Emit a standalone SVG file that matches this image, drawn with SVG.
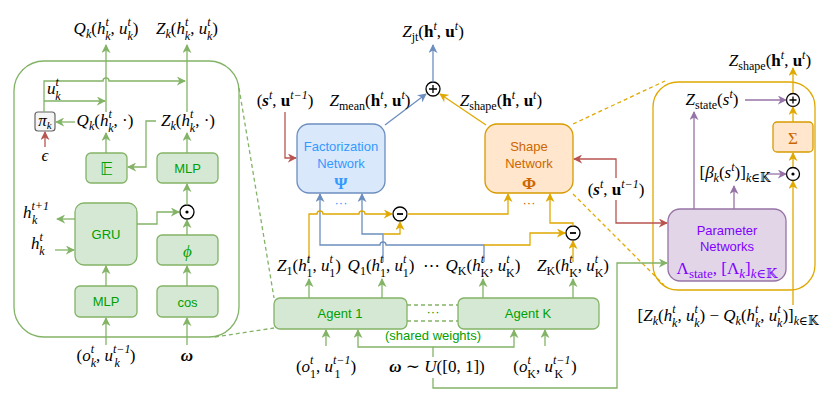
<svg xmlns="http://www.w3.org/2000/svg" width="830" height="400" viewBox="0 0 830 400">
<style>
.m{font-family:"Liberation Serif","DejaVu Serif",serif;font-size:17px;font-style:italic;fill:#000}
.s{font-size:12px}
.n{font-style:normal}
.b{font-weight:bold;font-style:normal}
.bi{font-weight:bold}
.c{text-anchor:middle}
.sans{font-family:"Liberation Sans",Arial,sans-serif;font-size:13px;text-anchor:middle}
.tg{fill:#00a000}
.tb{fill:#3399ff}
.to{fill:#cc6600}
.tp{fill:#7f00ff}
.gbox{fill:#d5e8d4;stroke:#82b366;stroke-width:1.3}
.bbox{fill:#dae8fc;stroke:#6c8ebf;stroke-width:1.3}
.obox{fill:#ffe6cc;stroke:#d79b00;stroke-width:1.3}
.pbox{fill:#e1d5e7;stroke:#9673a6;stroke-width:1.3}
.ln{fill:none;stroke-width:1.3}
.lg{stroke:#82b366}
.lb{stroke:#6c8ebf}
.lo{stroke:#e0a800}
.lr{stroke:#b85450}
.lp{stroke:#9673a6}
.op{fill:#fff;stroke:#000;stroke-width:1.3}
</style>
<defs>
<marker id="mg" viewBox="0 0 10 10" refX="9" refY="5" markerWidth="9" markerHeight="9" markerUnits="userSpaceOnUse" orient="auto"><path d="M0,0 L10,5 L0,10 L3,5 z" fill="#82b366"/></marker>
<marker id="mb" viewBox="0 0 10 10" refX="9" refY="5" markerWidth="9" markerHeight="9" markerUnits="userSpaceOnUse" orient="auto"><path d="M0,0 L10,5 L0,10 L3,5 z" fill="#6c8ebf"/></marker>
<marker id="mo" viewBox="0 0 10 10" refX="9" refY="5" markerWidth="9" markerHeight="9" markerUnits="userSpaceOnUse" orient="auto"><path d="M0,0 L10,5 L0,10 L3,5 z" fill="#e0a800"/></marker>
<marker id="mr" viewBox="0 0 10 10" refX="9" refY="5" markerWidth="9" markerHeight="9" markerUnits="userSpaceOnUse" orient="auto"><path d="M0,0 L10,5 L0,10 L3,5 z" fill="#b85450"/></marker>
<marker id="mp" viewBox="0 0 10 10" refX="9" refY="5" markerWidth="9" markerHeight="9" markerUnits="userSpaceOnUse" orient="auto"><path d="M0,0 L10,5 L0,10 L3,5 z" fill="#9673a6"/></marker>
</defs>

<!-- Left panel (agent network detail) -->
<g id="agent-detail">
<rect x="14" y="61" width="225" height="276" rx="30" fill="none" stroke="#82b366" stroke-width="1.3"/>
</g>
<g id="pi-box"><rect x="35" y="112" width="20" height="19" rx="3" fill="#f5f5f5" stroke="#666" stroke-width="1.2"/><text class="m c" x="45" y="126" font-size="16">π<tspan font-size="11" dy="3">k</tspan></text></g>
<g id="expect-box"><rect class="gbox" x="86" y="153" width="41" height="30" rx="5"/><text class="tg" x="106.5" y="175" text-anchor="middle" font-family="DejaVu Sans,sans-serif" font-size="18">𝔼</text></g>
<g id="mlp-top"><rect class="gbox" x="157" y="153" width="61" height="30" rx="5"/><text class="sans tg" x="187.5" y="173">MLP</text></g>
<g id="gru"><rect class="gbox" x="75" y="203" width="62" height="62" rx="9"/><text class="sans tg" x="106" y="239">GRU</text></g>
<g id="phi-box"><rect class="gbox" x="157" y="235" width="61" height="30" rx="5"/><text class="m c tg" x="187.5" y="257" font-size="20">ϕ</text></g>
<g id="mlp-bottom"><rect class="gbox" x="75" y="286" width="62" height="31" rx="5"/><text class="sans tg" x="106" y="306">MLP</text></g>
<g id="cos-box"><rect class="gbox" x="157" y="286" width="61" height="31" rx="5"/><text class="sans tg" x="187.5" y="307" font-size="17">cos</text></g>
<g id="hadamard-left"><circle class="op" cx="187" cy="212" r="7"/><circle cx="187" cy="212" r="1.6" fill="#000"/></g>

<!-- Center nodes -->
<g id="plus-jt"><circle class="op" cx="433" cy="89" r="7"/><path d="M429,89 H437 M433,85 V93" stroke="#000" stroke-width="1.3"/></g>
<g id="factorization"><rect class="bbox" x="297" y="124" width="88" height="69" rx="12"/><text class="sans tb" x="341" y="151" font-size="13.5">Factorization</text><text class="sans tb" x="341" y="168" font-size="13.5">Network</text><text class="m c tb b" x="341" y="189" font-size="18">Ψ</text></g>
<g id="shape"><rect class="obox" x="485" y="124" width="88" height="69" rx="12"/><text class="sans to" x="529" y="151" font-size="13.5">Shape</text><text class="sans to" x="529" y="168" font-size="13.5">Network</text><text class="m c to b" x="529" y="189" font-size="18">Φ</text></g>
<g id="minus-1"><circle class="op" cx="400" cy="214" r="7"/><path d="M397,214 H403" stroke="#000" stroke-width="1.8"/></g>
<g id="minus-K"><circle class="op" cx="573" cy="233" r="7"/><path d="M570,233 H576" stroke="#000" stroke-width="1.8"/></g>
<g id="agent-1"><rect class="gbox" x="274" y="298" width="133" height="31" rx="6"/><text class="sans tg" x="340" y="318" font-size="13.5">Agent 1</text></g>
<g id="agent-K"><rect class="gbox" x="458" y="298" width="141" height="31" rx="6"/><text class="sans tg" x="528" y="318" font-size="13.5">Agent K</text></g>

<!-- Right panel -->
<g id="shape-detail"><rect x="653" y="82" width="162" height="208" rx="25" fill="none" stroke="#e0a800" stroke-width="1.3"/></g>
<g id="plus-shape"><circle class="op" cx="793" cy="100" r="6.5"/><path d="M789.5,100 H796.5 M793,96.5 V103.5" stroke="#000" stroke-width="1.3"/></g>
<g id="sigma"><rect class="obox" x="773" y="122" width="40" height="30" rx="4"/><text class="m c to n" x="793" y="144" font-size="19">Σ</text></g>
<g id="hadamard-right"><circle class="op" cx="793" cy="174" r="6.5"/><circle cx="793" cy="174" r="1.6" fill="#000"/></g>
<g id="parameter"><rect class="pbox" x="668" y="209" width="118" height="72" rx="12"/><text class="sans tp" x="727" y="235" font-size="13.5">Parameter</text><text class="sans tp" x="727" y="251" font-size="13.5">Networks</text><text class="m c tp" x="727" y="274" font-size="20"><tspan class="n">Λ</tspan><tspan font-size="13" class="n" dy="4">state</tspan><tspan class="n" dy="-4">, [Λ</tspan><tspan font-size="13" dy="4">k</tspan><tspan class="n" dy="-4">]</tspan><tspan font-size="13" dy="4">k</tspan><tspan font-size="13" class="n">∈𝕂</tspan></text></g>

<!-- Connectors -->
<g id="connectors">
<path class="ln lg" d="M106,112 V45" marker-end="url(#mg)"/>
<path class="ln lg" d="M187,112 V45" marker-end="url(#mg)"/>
<path class="ln lg" d="M44,112 V81 H103 a3,3 0 0 1 6,0 H185" marker-end="url(#mg)"/>
<path class="ln lg" d="M44,101 H105" marker-end="url(#mg)"/>
<path class="ln lr" d="M45,147 V132" marker-end="url(#mr)"/>
<path class="ln lg" d="M75,122 H56" marker-end="url(#mg)"/>
<path class="ln lg" d="M156,121 H146 V167 H128" marker-end="url(#mg)"/>
<path class="ln lg" d="M106,153 V133" marker-end="url(#mg)"/>
<path class="ln lg" d="M187,153 V133" marker-end="url(#mg)"/>
<path class="ln lg" d="M187,205 V184" marker-end="url(#mg)"/>
<path class="ln lg" d="M187,235 V220" marker-end="url(#mg)"/>
<path class="ln lg" d="M137,224 H157 V212 H179" marker-end="url(#mg)"/>
<path class="ln lg" d="M75,219 H57" marker-end="url(#mg)"/>
<path class="ln lg" d="M55,250 H74" marker-end="url(#mg)"/>
<path class="ln lg" d="M106,286 V266" marker-end="url(#mg)"/>
<path class="ln lg" d="M187,286 V266" marker-end="url(#mg)"/>
<path class="ln lg" d="M106,345 V318" marker-end="url(#mg)"/>
<path class="ln lg" d="M187,345 V318" marker-end="url(#mg)"/>
<path class="ln lg" d="M239,88 L274,298 M215,337 L274,328" stroke-dasharray="4,3"/>
<path class="ln lb" d="M433,82 V45" marker-end="url(#mb)"/>
<path class="ln lb" d="M385,125 L426,94" marker-end="url(#mb)"/>
<path class="ln lo" d="M486,125 L440,94" marker-end="url(#mo)"/>
<path class="ln lr" d="M285,112 V158 H296" marker-end="url(#mr)"/>
<path class="ln lb" d="M484,262 V245 H386 a3,3 0 0 0 -6,0 H320 V194" marker-end="url(#mb)"/>
<path class="ln lb" d="M383,262 V234 H362 V194" marker-end="url(#mb)"/>
<path class="ln lo" d="M383,234 H400 V222" marker-end="url(#mo)"/>
<path class="ln lo" d="M309,262 V214 H317 a3,3 0 0 1 6,0 H359 a3,3 0 0 1 6,0 H392" marker-end="url(#mo)"/>
<path class="ln lo" d="M407,214 H508 V194" marker-end="url(#mo)"/>
<path class="ln lo" d="M573,262 V241" marker-end="url(#mo)"/>
<path class="ln lo" d="M484,245 H530 V233 H565" marker-end="url(#mo)"/>
<path class="ln lo" d="M573,226 V223 H550 V194" marker-end="url(#mo)"/>
<path class="ln lr" d="M616,178 V159 H574" marker-end="url(#mr)"/>
<path class="ln lr" d="M616,200 V223 H667" marker-end="url(#mr)"/>
<path class="ln lo" d="M573,124 L665,81 M573,194 L664,285" stroke-dasharray="4,3"/>
<path class="ln lg" d="M309,298 V279" marker-end="url(#mg)"/>
<path class="ln lg" d="M382,298 V279" marker-end="url(#mg)"/>
<path class="ln lg" d="M483,298 V279" marker-end="url(#mg)"/>
<path class="ln lg" d="M573,298 V279" marker-end="url(#mg)"/>
<path class="ln lg" d="M407,305 H458 M407,321 H458" stroke-dasharray="4,3"/>
<path class="ln lg" d="M326,346 V330" marker-end="url(#mg)"/>
<path class="ln lg" d="M545,346 V330" marker-end="url(#mg)"/>
<path class="ln lg" d="M433,357 V347 H358 V330" marker-end="url(#mg)"/>
<path class="ln lg" d="M433,347 H514 V330" marker-end="url(#mg)"/>
<path class="ln lg" d="M433,378 V388 H617 V263 H667" marker-end="url(#mg)"/>
<path class="ln lo" d="M793,93 V68" marker-end="url(#mo)"/>
<path class="ln lo" d="M793,122 V107" marker-end="url(#mo)"/>
<path class="ln lo" d="M793,167 V153" marker-end="url(#mo)"/>
<path class="ln lo" d="M793,305 V181" marker-end="url(#mo)"/>
<path class="ln lp" d="M745,100 H786" marker-end="url(#mp)"/>
<path class="ln lp" d="M767,174 H786" marker-end="url(#mp)"/>
<path class="ln lp" d="M694,209 V112" marker-end="url(#mp)"/>
<path class="ln lp" d="M734,209 V186" marker-end="url(#mp)"/>
</g>

<!-- Labels -->
<g id="labels">
<text class="m c" x="106" y="34">Q<tspan class="s" dy="4">k</tspan><tspan class="n" dy="-4">(</tspan>h<tspan class="s" dy="-8">t</tspan><tspan class="s" dx="-3.5" dy="13.5">k</tspan><tspan class="n" dy="-5.5">, </tspan>u<tspan class="s" dy="-8">t</tspan><tspan class="s" dx="-3.5" dy="13.5">k</tspan><tspan class="n" dy="-5.5">)</tspan></text>
<text class="m c" x="187" y="34">Z<tspan class="s" dy="4">k</tspan><tspan class="n" dy="-4">(</tspan>h<tspan class="s" dy="-8">t</tspan><tspan class="s" dx="-3.5" dy="13.5">k</tspan><tspan class="n" dy="-5.5">, </tspan>u<tspan class="s" dy="-8">t</tspan><tspan class="s" dx="-3.5" dy="13.5">k</tspan><tspan class="n" dy="-5.5">)</tspan></text>
<text class="m" x="47" y="94">u<tspan class="s" dy="-8">t</tspan><tspan class="s" dx="-3.5" dy="13.5">k</tspan></text>
<text class="m c" x="45" y="161">ϵ</text>
<text class="m c" x="105" y="126">Q<tspan class="s" dy="4">k</tspan><tspan class="n" dy="-4">(</tspan>h<tspan class="s" dy="-8">t</tspan><tspan class="s" dx="-3.5" dy="13.5">k</tspan><tspan class="n" dy="-5.5">, ·)</tspan></text>
<text class="m c" x="188" y="126">Z<tspan class="s" dy="4">k</tspan><tspan class="n" dy="-4">(</tspan>h<tspan class="s" dy="-8">t</tspan><tspan class="s" dx="-3.5" dy="13.5">k</tspan><tspan class="n" dy="-5.5">, ·)</tspan></text>
<text class="m" x="23" y="218">h<tspan class="s" dy="-8">t+1</tspan><tspan class="s" dx="-17" dy="13.5">k</tspan></text>
<text class="m" x="31" y="249">h<tspan class="s" dy="-8">t</tspan><tspan class="s" dx="-3.5" dy="13.5">k</tspan></text>
<text class="m c" x="106" y="361"><tspan class="n">(</tspan>o<tspan class="s" dy="-8">t</tspan><tspan class="s" dx="-3.5" dy="13.5">k</tspan><tspan class="n" dy="-5.5">, </tspan>u<tspan class="s" dy="-8">t−1</tspan><tspan class="s" dx="-16" dy="13.5">k</tspan><tspan class="n" dx="10" dy="-5.5">)</tspan></text>
<text class="m c bi" x="187" y="361">ω</text>

<text class="m c" x="433" y="37">Z<tspan class="s n" dy="4">jt</tspan><tspan class="n" dy="-4">(</tspan><tspan class="b">h</tspan><tspan class="s" dy="-7">t</tspan><tspan class="n" dy="7">, </tspan><tspan class="b">u</tspan><tspan class="s" dy="-7">t</tspan><tspan class="n" dy="7">)</tspan></text>
<text class="m c" x="285" y="106"><tspan class="n">(</tspan><tspan class="bi">s</tspan><tspan class="s" dy="-7">t</tspan><tspan class="n" dy="7">, </tspan><tspan class="b">u</tspan><tspan class="s" dy="-7">t−1</tspan><tspan class="n" dy="7">)</tspan></text>
<text class="m c" x="370" y="106">Z<tspan class="s n" dy="4">mean</tspan><tspan class="n" dy="-4">(</tspan><tspan class="b">h</tspan><tspan class="s" dy="-7">t</tspan><tspan class="n" dy="7">, </tspan><tspan class="b">u</tspan><tspan class="s" dy="-7">t</tspan><tspan class="n" dy="7">)</tspan></text>
<text class="m c" x="501" y="106">Z<tspan class="s n" dy="4">shape</tspan><tspan class="n" dy="-4">(</tspan><tspan class="b">h</tspan><tspan class="s" dy="-7">t</tspan><tspan class="n" dy="7">, </tspan><tspan class="b">u</tspan><tspan class="s" dy="-7">t</tspan><tspan class="n" dy="7">)</tspan></text>
<text class="sans tb" x="341" y="207" font-size="13">···</text>
<text class="sans to" x="529" y="207" font-size="13">···</text>
<text class="m c" x="616" y="195"><tspan class="n">(</tspan><tspan class="bi">s</tspan><tspan class="s" dy="-7">t</tspan><tspan class="n" dy="7">, </tspan><tspan class="b">u</tspan><tspan class="s" dy="-7">t−1</tspan><tspan class="n" dy="7">)</tspan></text>

<text class="m c" x="309" y="271">Z<tspan class="s n" dy="4">1</tspan><tspan class="n" dy="-4">(</tspan>h<tspan class="s" dy="-8">t</tspan><tspan class="s n" dx="-3.5" dy="13.5">1</tspan><tspan class="n" dy="-5.5">, </tspan>u<tspan class="s" dy="-8">t</tspan><tspan class="s n" dx="-3.5" dy="13.5">1</tspan><tspan class="n" dy="-5.5">)</tspan></text>
<text class="m c" x="381" y="271">Q<tspan class="s n" dy="4">1</tspan><tspan class="n" dy="-4">(</tspan>h<tspan class="s" dy="-8">t</tspan><tspan class="s n" dx="-3.5" dy="13.5">1</tspan><tspan class="n" dy="-5.5">, </tspan>u<tspan class="s" dy="-8">t</tspan><tspan class="s n" dx="-3.5" dy="13.5">1</tspan><tspan class="n" dy="-5.5">)</tspan></text>
<text class="m c n" x="431" y="271">⋯</text>
<text class="m c" x="483" y="271">Q<tspan class="s n" dy="4">K</tspan><tspan class="n" dy="-4">(</tspan>h<tspan class="s" dy="-8">t</tspan><tspan class="s n" dx="-3.5" dy="13.5">K</tspan><tspan class="n" dy="-5.5">, </tspan>u<tspan class="s" dy="-8">t</tspan><tspan class="s n" dx="-3.5" dy="13.5">K</tspan><tspan class="n" dy="-5.5">)</tspan></text>
<text class="m c" x="573" y="271">Z<tspan class="s n" dy="4">K</tspan><tspan class="n" dy="-4">(</tspan>h<tspan class="s" dy="-8">t</tspan><tspan class="s n" dx="-3.5" dy="13.5">K</tspan><tspan class="n" dy="-5.5">, </tspan>u<tspan class="s" dy="-8">t</tspan><tspan class="s n" dx="-3.5" dy="13.5">K</tspan><tspan class="n" dy="-5.5">)</tspan></text>
<text class="sans tg" x="433" y="316" font-size="12">···</text>
<text class="sans tg" x="433" y="340" font-size="13.5">(shared weights)</text>
<text class="m c" x="326" y="372"><tspan class="n">(</tspan>o<tspan class="s" dy="-8">t</tspan><tspan class="s n" dx="-3.5" dy="13.5">1</tspan><tspan class="n" dy="-5.5">, </tspan>u<tspan class="s" dy="-8">t−1</tspan><tspan class="s n" dx="-16" dy="13.5">1</tspan><tspan class="n" dx="10" dy="-5.5">)</tspan></text>
<text class="m c" x="437" y="372"><tspan class="bi">ω</tspan><tspan class="n"> ∼ </tspan>U<tspan class="n">([0, 1])</tspan></text>
<text class="m c" x="545" y="372"><tspan class="n">(</tspan>o<tspan class="s" dy="-8">t</tspan><tspan class="s n" dx="-3.5" dy="13.5">K</tspan><tspan class="n" dy="-5.5">, </tspan>u<tspan class="s" dy="-8">t−1</tspan><tspan class="s n" dx="-16" dy="13.5">K</tspan><tspan class="n" dx="8" dy="-5.5">)</tspan></text>

<text class="m c" x="770" y="66">Z<tspan class="s n" dy="4">shape</tspan><tspan class="n" dy="-4">(</tspan><tspan class="b">h</tspan><tspan class="s" dy="-7">t</tspan><tspan class="n" dy="7">, </tspan><tspan class="b">u</tspan><tspan class="s" dy="-7">t</tspan><tspan class="n" dy="7">)</tspan></text>
<text class="m c" x="712" y="105">Z<tspan class="s n" dy="4">state</tspan><tspan class="n" dy="-4">(</tspan>s<tspan class="s" dy="-7">t</tspan><tspan class="n" dy="7">)</tspan></text>
<text class="m c" x="735" y="178"><tspan class="n">[</tspan>β<tspan class="s" dy="4">k</tspan><tspan class="n" dy="-4">(</tspan>s<tspan class="s" dy="-7">t</tspan><tspan class="n" dy="7">)]</tspan><tspan class="s" dy="4">k</tspan><tspan class="s n">∈𝕂</tspan></text>
<text class="m c" x="728" y="321"><tspan class="n">[</tspan>Z<tspan class="s" dy="4">k</tspan><tspan class="n" dy="-4">(</tspan>h<tspan class="s" dy="-8">t</tspan><tspan class="s" dx="-3.5" dy="13.5">k</tspan><tspan class="n" dy="-5.5">, </tspan>u<tspan class="s" dy="-8">t</tspan><tspan class="s" dx="-3.5" dy="13.5">k</tspan><tspan class="n" dy="-5.5">) − </tspan>Q<tspan class="s" dy="4">k</tspan><tspan class="n" dy="-4">(</tspan>h<tspan class="s" dy="-8">t</tspan><tspan class="s" dx="-3.5" dy="13.5">k</tspan><tspan class="n" dy="-5.5">, </tspan>u<tspan class="s" dy="-8">t</tspan><tspan class="s" dx="-3.5" dy="13.5">k</tspan><tspan class="n" dy="-5.5">)]</tspan><tspan class="s" dy="4">k</tspan><tspan class="s n">∈𝕂</tspan></text>
</g>
</svg>
